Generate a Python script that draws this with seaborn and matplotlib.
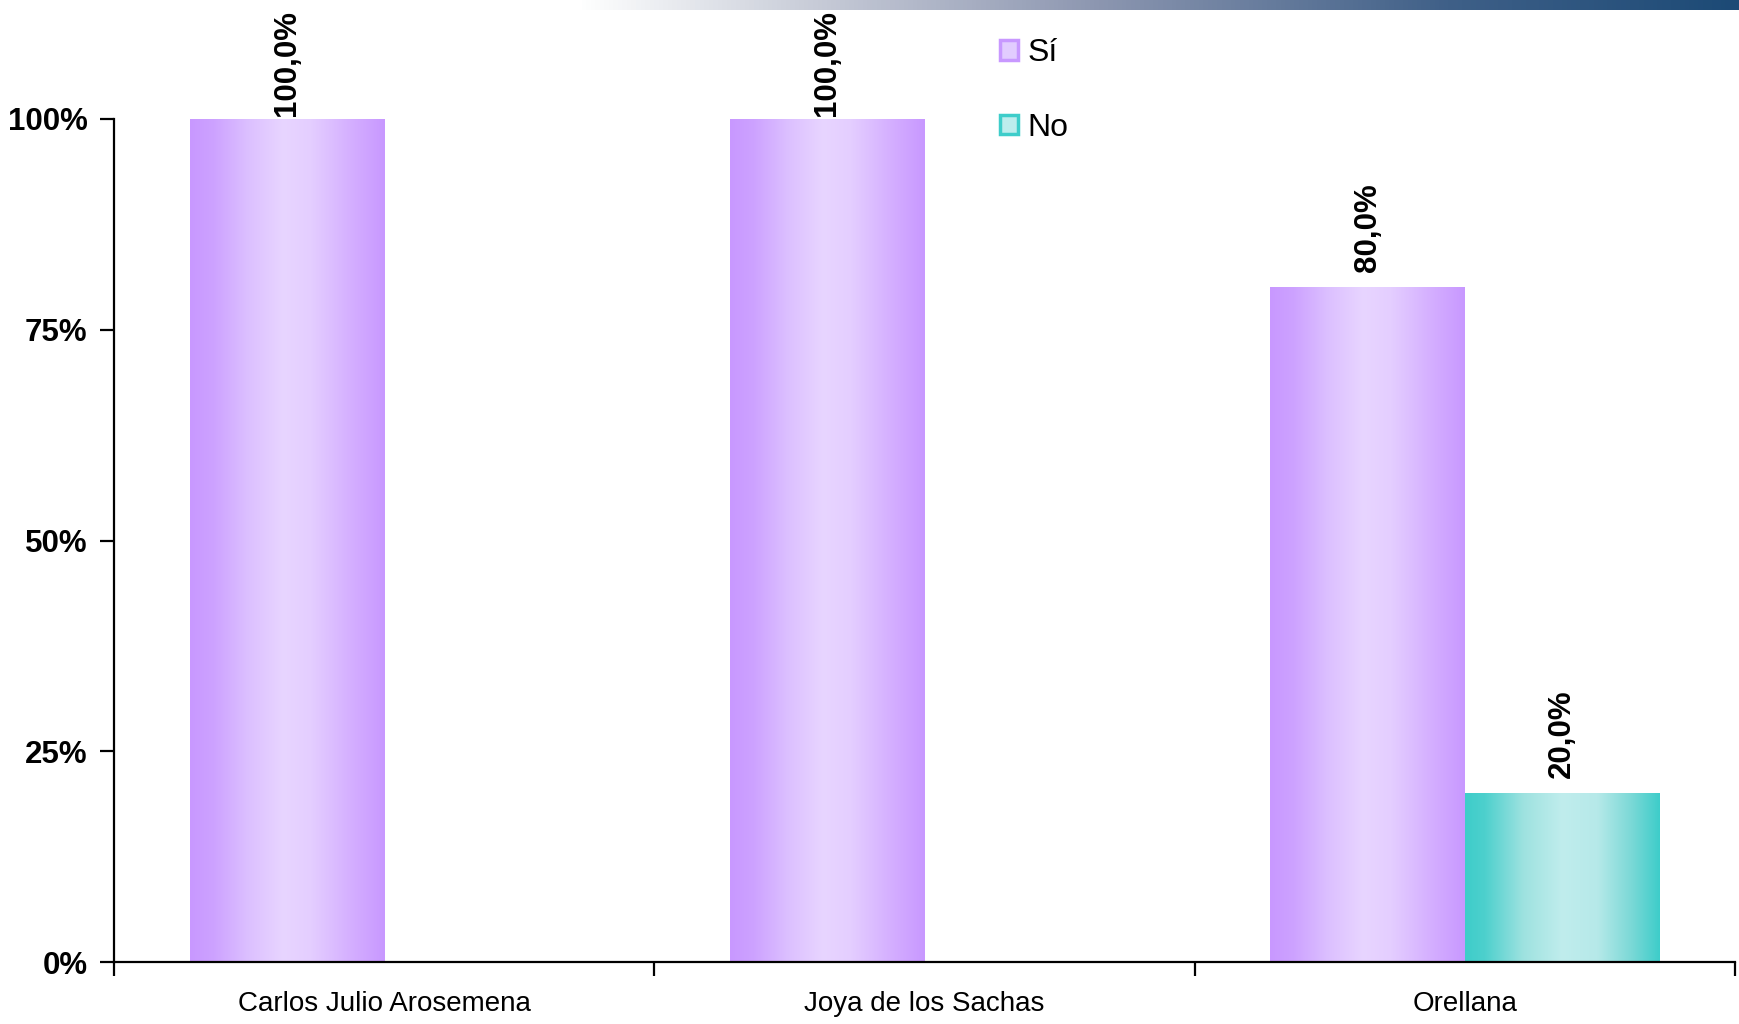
import numpy as np
import pandas as pd
import matplotlib
matplotlib.use("Agg")
import matplotlib.pyplot as plt
from matplotlib.colors import LinearSegmentedColormap
from matplotlib.patches import Patch
import seaborn as sns

# data
categories = ["Carlos Julio Arosemena", "Joya de los Sachas", "Orellana"]
series = ["Sí", "No"]
si_values = [100.0, 100.0, 80.0]
no_values = [0.0, 0.0, 20.0]
y_ticks = [0, 25, 50, 75, 100]

df = pd.DataFrame({
    "lugar": categories * 2,
    "respuesta": [series[0]] * 3 + [series[1]] * 3,
    "pct": si_values + no_values,
})

sns.set_theme(style="white")
plt.rcParams["font.family"] = ["Liberation Sans", "DejaVu Sans"]
plt.rcParams["text.color"] = "black"
plt.rcParams["xtick.color"] = "black"
plt.rcParams["ytick.color"] = "black"
plt.rcParams["xtick.labelcolor"] = "black"
plt.rcParams["ytick.labelcolor"] = "black"

fig = plt.figure(figsize=(17.39, 10.24), dpi=100)
fig.patch.set_facecolor("white")
ax = fig.add_axes([114 / 1739, 62 / 1024, (1735 - 114) / 1739, (962 - 119) / 1024])

edge_cols = {"Sí": "#C898FF", "No": "#3ECDCA"}
sns.barplot(data=df, x="lugar", y="pct", hue="respuesta", hue_order=series,
            order=categories, palette=edge_cols, width=0.72, linewidth=0,
            saturation=1, errorbar=None, legend=False, ax=ax)

# horizontal "cylinder" shading on each bar
cmaps = {
    "Sí": LinearSegmentedColormap.from_list("si", [
        (0.0, "#C898FF"), (0.12, "#CDA2FF"), (0.3, "#DCC0FF"),
        (0.48, "#E8D5FF"), (0.62, "#E4CEFF"), (0.82, "#D5B0FF"), (1.0, "#C898FF")]),
    "No": LinearSegmentedColormap.from_list("no", [
        (0.0, "#3ECDCA"), (0.1, "#4DD0CD"), (0.3, "#9EE2E0"),
        (0.5, "#C0EDED"), (0.68, "#B6E9E9"), (0.85, "#7DD9D7"), (1.0, "#3ECDCA")]),
}
grad = np.linspace(0, 1, 256).reshape(1, -1)
for cont, name in zip(ax.containers, series):
    for bar, v in zip(cont, cont.datavalues):
        h = bar.get_height()
        if not h > 0:
            continue
        x0 = bar.get_x()
        w = bar.get_width()
        ax.imshow(grad, extent=[x0, x0 + w, 0, h], aspect="auto",
                  cmap=cmaps[name], interpolation="bicubic", zorder=2)
        # the 100% labels sit tight on the bar so they fit under the top edge
        pad = 2 if v >= 100 else 11
        ax.annotate(f"{v:.1f}".replace(".", ",") + "%", (x0 + w / 2, h),
                    xytext=(0, pad), textcoords="offset points",
                    ha="center", va="bottom", rotation=90,
                    fontsize=22.5, fontweight="bold", color="black",
                    annotation_clip=False)

ax.set_xlim(-0.5, 2.5)
ax.set_ylim(0, 100)
ax.set_xlabel("")
ax.set_ylabel("")

# ticks between the groups, labels under the groups
ax.set_xticks([-0.5, 0.5, 1.5, 2.5])
ax.set_xticklabels([])
ax.set_xticks([0, 1, 2], minor=True)
ax.set_xticklabels(categories, minor=True, fontsize=20, color="black")
ax.tick_params(axis="x", which="major", direction="out", length=10, width=1.6,
               bottom=True, color="black")
ax.tick_params(axis="x", which="minor", length=0, pad=21)

ax.set_yticks(y_ticks)
ax.set_yticklabels([f"{t}%" for t in y_ticks], fontsize=22.5, fontweight="bold",
                   color="black")
ax.tick_params(axis="y", direction="out", length=10, width=1.6, left=True,
               color="black", pad=9)

for s in ["top", "right"]:
    ax.spines[s].set_visible(False)
for s in ["left", "bottom"]:
    ax.spines[s].set_color("black")
    ax.spines[s].set_linewidth(1.6)

# legend up at the top middle
handles = [Patch(facecolor="#E2CCFF", edgecolor="#C898FF", linewidth=2.5),
           Patch(facecolor="#BDEDED", edgecolor="#3ECDCA", linewidth=2.5)]
leg = fig.legend(handles, series, loc="upper left", bbox_to_anchor=(1000 / 1739, 1 - 38 / 1024),
                 frameon=False, fontsize=23, handlelength=0.57, handleheight=0.57,
                 handletextpad=0.3, labelspacing=1.4, borderpad=0, borderaxespad=0)
for t in leg.get_texts():
    t.set_color("black")

# slide banner at the very top
band = fig.add_axes([577 / 1739, 1 - 10 / 1024, 1 - 577 / 1739, 10 / 1024])
band_cmap = LinearSegmentedColormap.from_list("band", [
    (0.0, "#FFFFFF"), (0.2, "#C8CCD8"), (0.45, "#8C96B0"), (0.75, "#3F6088"), (1.0, "#1C4A76")])
band.imshow(grad, aspect="auto", cmap=band_cmap, extent=[0, 1, 0, 1])
band.set_axis_off()

fig.savefig("out.png", dpi=100, facecolor="white")
